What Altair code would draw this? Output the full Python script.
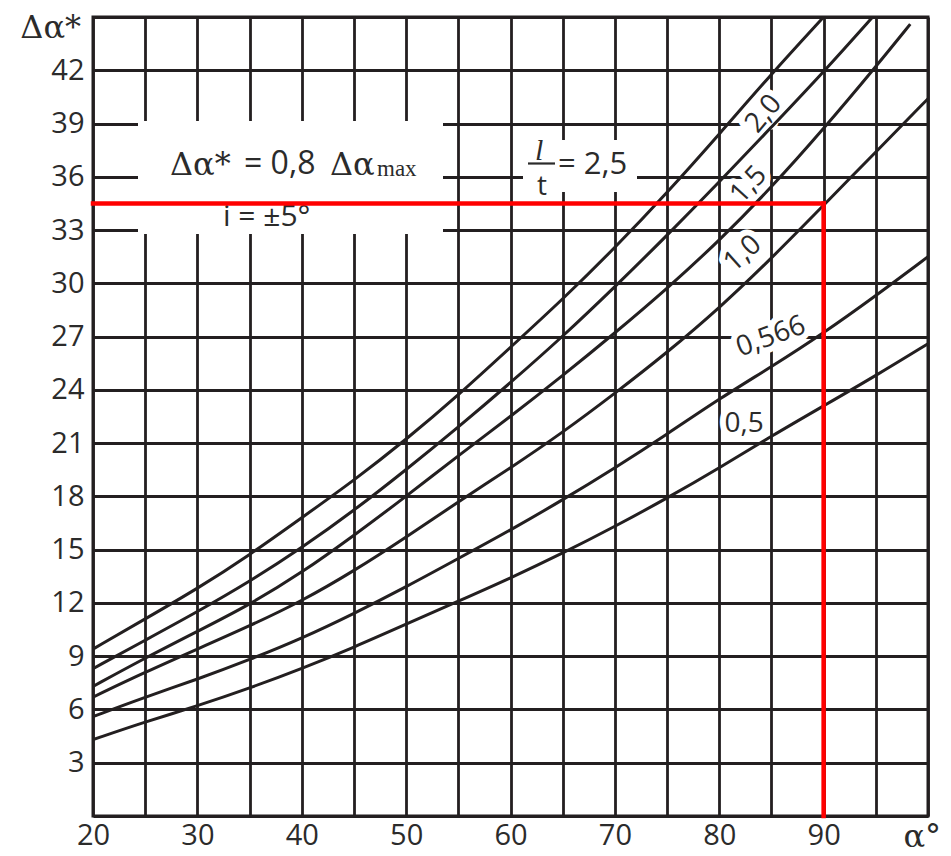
import altair as alt
import pandas as pd

# ---------------- data ----------------
alpha = [20, 25, 30, 35, 40, 45, 50, 55, 60, 65, 70, 75, 80, 85, 90, 95, 100]

lt_2_5 = [9.4, 11.1, 12.8, 14.7, 16.8, 18.9, 21.2, 23.7, 26.4, 29.1, 32.0, 35.1, 38.4, 41.8, 45.0]
lt_2_0 = [8.3, 9.9, 11.5, 13.2, 15.1, 17.2, 19.5, 21.9, 24.4, 27.0, 29.8, 32.7, 35.7, 38.8, 41.9, 45.2]
lt_1_5_x = alpha[:16] + [98.3]
lt_1_5 = [7.3, 8.9, 10.4, 11.9, 13.7, 15.8, 18.0, 20.3, 22.5, 24.8, 27.2, 29.7, 32.4, 35.4, 38.7, 42.2, 44.6]
lt_1_0 = [6.7, 8.1, 9.4, 10.7, 12.1, 13.8, 15.7, 17.7, 19.6, 21.6, 23.8, 26.1, 28.6, 31.4, 34.4, 37.4, 40.4]
lt_0_566 = [5.6, 6.7, 7.7, 8.8, 10.0, 11.4, 12.9, 14.5, 16.1, 17.8, 19.6, 21.5, 23.5, 25.3, 27.2, 29.3, 31.5]
lt_0_5 = [4.3, 5.3, 6.2, 7.2, 8.3, 9.5, 10.8, 12.1, 13.4, 14.8, 16.3, 17.9, 19.6, 21.4, 23.1, 24.8, 26.6]

curve_labels = ["2,0", "1,5", "1,0", "0,566", "0,5"]
x_ticks = [20, 25, 30, 35, 40, 45, 50, 55, 60, 65, 70, 75, 80, 85, 90, 95, 100]
y_ticks = [0, 3, 6, 9, 12, 15, 18, 21, 24, 27, 30, 33, 36, 39, 42, 45]

red_x = 90
red_y = 34.5

# ---------------- tables ----------------
rows = []
def add(name, xs_, ys_):
    for i, (a, d) in enumerate(zip(xs_, ys_)):
        rows.append({"lt": name, "alpha": a, "d": d, "o": i})

add("2.5", alpha, lt_2_5)
add("2.0", alpha, lt_2_0)
add("1.5", lt_1_5_x, lt_1_5)
add("1.0", alpha, lt_1_0)
add("0.566", alpha, lt_0_566)
add("0.5", alpha, lt_0_5)
curves = pd.DataFrame(rows)

W, H = 835, 799
TOP = 17

# helper: convert reference pixel positions of annotations into data units
def X(px):
    return 20 + (px - 93) * 80 / W

def Y(py):
    return (TOP + H - py) * 45 / H

xs = alt.Scale(domain=[20, 100], nice=False, zero=False)
ys = alt.Scale(domain=[0, 45], nice=False, zero=False)

xa = alt.Axis(values=x_ticks, title=None,
              labelExpr="datum.value % 10 == 0 && datum.value < 100 ? datum.label : ''",
              labelFlush=False, labelPadding=5)
ya = alt.Axis(values=y_ticks, title=None,
              labelExpr="datum.value > 0 && datum.value < 45 ? datum.label : ''",
              labelFlush=False, labelPadding=9)

INK = "#231f20"
TXT = "#2b2b2b"
SANS = "Open Sans"
SERIF = "Liberation Serif"
WSERIF = "DejaVu Serif"

def XQ(f="x"):
    return alt.X(f + ":Q", scale=xs, axis=xa)

def YQ(f="y"):
    return alt.Y(f + ":Q", scale=ys, axis=ya)

# white boxes that interrupt the grid
boxes = pd.DataFrame({
    "x": [X(138), X(523)], "x2": [X(443), X(637)],
    "y": [Y(234), Y(192)], "y2": [Y(121), Y(140)],
})
box_layer = alt.Chart(boxes).mark_rect(color="white").encode(
    x=XQ(), x2="x2:Q", y=YQ(), y2="y2:Q")

# curve labels with white halo
lab = pd.DataFrame({
    "t": curve_labels,
    "x": [X(764), X(749), X(743), X(771), X(744)],
    "y": [Y(114), Y(185), Y(254), Y(337), Y(424)],
    "a": [310, 312, 318, 340, 0],
})
def lab_layer(**mk):
    return alt.Chart(lab).mark_text(font=SANS, fontSize=28, align="center",
                                    baseline="middle", **mk).encode(
        x=XQ(), y=YQ(), angle=alt.Angle("a:Q", scale=None), text="t:N")

halo = lab_layer(fill="white", stroke="white", strokeWidth=12, strokeJoin="round")
labels = lab_layer(color=TXT)

curve_layer = alt.Chart(curves).mark_line(
    color=INK, strokeWidth=3, interpolate="basis", clip=True
).encode(
    x=XQ("alpha"), y=YQ("d"), detail="lt:N", order="o:Q")

def text_layer(df, **mk):
    return alt.Chart(df).mark_text(**mk).encode(x=XQ(), y=YQ(), text="t:N")

# formula in the big box
f1 = text_layer(pd.DataFrame({"t": ["Δα*", "Δα"], "x": [X(170), X(330)], "y": [Y(175), Y(175)]}),
                font=WSERIF, fontSize=32, color=TXT, align="left", baseline="alphabetic")
f2 = text_layer(pd.DataFrame({"t": ["= 0,8"], "x": [X(244)], "y": [Y(174)]}),
                font=SANS, fontSize=32, color=TXT, align="left", baseline="alphabetic")
f3 = text_layer(pd.DataFrame({"t": ["max"], "x": [X(377)], "y": [Y(176)]}),
                font=SERIF, fontSize=23, color=TXT, align="left", baseline="alphabetic")
f4 = text_layer(pd.DataFrame({"t": ["i = ±5°"], "x": [X(223)], "y": [Y(226)]}),
                font=SANS, fontSize=30, color=TXT, align="left", baseline="alphabetic")

# l / t = 2,5
g1 = text_layer(pd.DataFrame({"t": ["l"], "x": [X(535)], "y": [Y(160)]}),
                font=SERIF, fontSize=30, fontStyle="italic", color=TXT, align="left", baseline="alphabetic")
g2 = text_layer(pd.DataFrame({"t": ["t"], "x": [X(537)], "y": [Y(195)]}),
                font=SANS, fontSize=28, color=TXT, align="left", baseline="alphabetic")
g3 = text_layer(pd.DataFrame({"t": ["= 2,5"], "x": [X(558)], "y": [Y(174)]}),
                font=SANS, fontSize=31, color=TXT, align="left", baseline="alphabetic")
bar = alt.Chart(pd.DataFrame({"x": [X(528)], "x2": [X(555)], "y": [Y(163.5)]})).mark_rule(
    color=TXT, strokeWidth=2.2).encode(x=XQ(), x2="x2:Q", y=YQ())

# red reading lines
red_h = alt.Chart(pd.DataFrame({"x": [20], "x2": [red_x], "y": [red_y]})).mark_rule(
    color="#ff0000", strokeWidth=4.5, strokeCap="square").encode(
    x=XQ(), x2="x2:Q", y=YQ())
red_v = alt.Chart(pd.DataFrame({"x": [red_x], "y": [0], "y2": [red_y]})).mark_rule(
    color="#ff0000", strokeWidth=4.5, strokeCap="square").encode(
    x=XQ(), y=YQ(), y2="y2:Q")

# axis titles placed at the ends of the axes
ytitle = alt.Chart(pd.DataFrame({"t": ["Δα*"], "x": [20], "y": [45]})).mark_text(
    font=WSERIF, fontSize=32, color=TXT, align="right", baseline="alphabetic",
    dx=-12, dy=21, clip=False).encode(x=XQ(), y=YQ(), text="t:N")
xtitle = alt.Chart(pd.DataFrame({"t": ["α°"], "x": [100], "y": [0]})).mark_text(
    font=WSERIF, fontSize=32, color=TXT, align="right", baseline="alphabetic",
    dx=13, dy=31, clip=False).encode(x=XQ(), y=YQ(), text="t:N")

chart = alt.layer(
    box_layer, halo, labels, curve_layer,
    f1, f2, f3, f4, g1, g2, g3, bar,
    red_h, red_v, ytitle, xtitle,
).properties(
    width=W, height=H,
    padding={"left": 85, "top": 9, "right": 15, "bottom": 32},
    autosize=alt.AutoSizeParams(type="none"),
    background="white",
).configure_view(
    stroke=INK, strokeWidth=3,
).configure_axis(
    grid=True, gridColor=INK, gridWidth=2.8, gridOpacity=1,
    domain=False, ticks=False,
    labelFont=SANS, labelFontSize=29, labelColor=TXT,
)

chart.save("out.html", embed_options={"renderer": "svg", "actions": False})
